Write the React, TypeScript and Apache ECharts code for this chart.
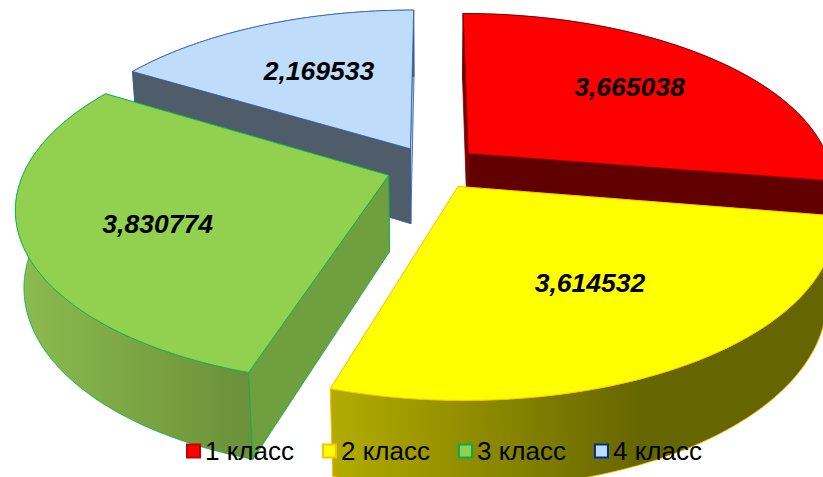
import React, { useEffect, useRef } from "react";
import * as echarts from "echarts";

const categories = ["1 класс", "2 класс", "3 класс", "4 класс"];
const values = [3.665038, 3.614532, 3.830774, 2.169533];
const topColors = ["#FF0000", "#FFFF00", "#92D050", "#BFDDFB"];
const edgeColors = ["#7A0000", "#FFC000", "#00B050", "#2F5BA8"];
const legendEdges = ["#C00000", "#FFC000", "#00B050", "#002F8E"];
const startWalls = ["#7A0000", "#666600", "#709F3F", "#4F5D6A"];
const endWalls = ["#600000", "#666600", "#709F3F", "#A9C4E4"];
const arcStops = [
  ["#600000", "#600000"],
  ["#B2AC00", "#666600"],
  ["#8CBB4E", "#6A8F39"],
  ["#4F5D6A", "#4F5D6A"],
];
const arcRanges = [[460, 823], [333, 640], [20, 255], [130, 420]];
const labelNudges = [[10, -7], [1, -2], [-16, 11], [3, 0]];
const paintOrder = [2, 4, 3, 1]; // z per slice: back to front is 4, 1, 3, 2
const wallOrder = [
  ["start", "arc", "end"],
  ["start", "end", "arc"],
  ["end", "arc", "start"],
  ["end", "arc", "start"],
];

const CX = 433, Y0 = 167.5, RX = 363, RY = 169, P = 0.175, Q = 0.02, H = 77.5, EXPLODE = 0.1295;

function project(gx: number, gy: number, z: number): number[] {
  const w = 1 + P * gy + Q * z;
  return [CX + (RX * gx) / w, Y0 + (-RY * gy + H * z) / w];
}

const total = values.reduce((a, b) => a + b, 0);

function makeRenderItem(index: number) {
  return (_params: any, api: any) => {
    const v = api.value(0);
    let before = 0;
    for (let i = 0; i < index; i++) before += values[i];
    const a0 = (before / total) * Math.PI * 2;
    const a1 = a0 + (v / total) * Math.PI * 2;
    const mid = (a0 + a1) / 2;
    const ox = EXPLODE * Math.sin(mid);
    const oy = EXPLODE * Math.cos(mid);
    const steps = 90;
    const rim = (z: number) => {
      const pts: number[][] = [];
      for (let s = 0; s <= steps; s++) {
        const t = a0 + ((a1 - a0) * s) / steps;
        pts.push(project(ox + Math.sin(t), oy + Math.cos(t), z));
      }
      return pts;
    };
    const topRim = rim(0);
    const botRim = rim(1);
    const apexTop = project(ox, oy, 0);
    const apexBot = project(ox, oy, 1);
    const edge = edgeColors[index];
    const poly = (points: number[][], fill: any, strokeWidth = 0.8) => ({
      type: "polygon",
      shape: { points },
      style: { fill, stroke: edge, lineWidth: strokeWidth },
    });
    const [gx0, gx1] = arcRanges[index];
    const arcFill = new echarts.graphic.LinearGradient(
      gx0, 0, gx1, 0,
      [
        { offset: 0, color: arcStops[index][0] },
        { offset: 1, color: arcStops[index][1] },
      ],
      true
    );
    const walls: Record<string, any> = {
      start: poly([apexTop, topRim[0], botRim[0], apexBot], startWalls[index]),
      end: poly([apexTop, topRim[steps], botRim[steps], apexBot], endWalls[index]),
      arc: poly([...topRim, ...botRim.slice().reverse()], arcFill),
    };
    const lr = 0.6;
    const lp = project(ox + lr * Math.sin(mid), oy + lr * Math.cos(mid), 0);
    const label = v.toFixed(6).replace(".", ",");
    return {
      type: "group",
      children: [
        ...wallOrder[index].map((k) => walls[k]),
        poly([apexTop, ...topRim], topColors[index]),
        {
          type: "text",
          x: lp[0] + labelNudges[index][0],
          y: lp[1] + labelNudges[index][1],
          style: {
            text: label,
            fill: "#000",
            font: "italic bold 26.5px 'Liberation Sans', Arial, sans-serif",
            textAlign: "center",
            textVerticalAlign: "middle",
          },
        },
      ],
    };
  };
}

export default function App() {
  const ref = useRef<HTMLDivElement>(null);
  useEffect(() => {
    document.body.style.margin = "0";
    const chart = echarts.init(ref.current!, undefined, { renderer: "svg" });
    chart.setOption({
      animation: false,
      backgroundColor: "#fff",
      legend: {
        z: 20,
        left: 186,
        top: 438,
        padding: 0,
        itemWidth: 13,
        itemHeight: 13,
        itemGap: 28,
        icon: "rect",
        selectedMode: false,
        textStyle: {
          fontFamily: "'Liberation Sans', Arial, sans-serif",
          fontSize: 26,
          color: "#000",
        },
        data: categories.map((name, i) => ({
          name,
          icon: "rect",
          itemStyle: { color: topColors[i], borderColor: legendEdges[i], borderWidth: 2 },
        })),
      },
      series: categories.map((name, i) => ({
        type: "custom",
        name,
        coordinateSystem: "none",
        z: paintOrder[i],
        silent: true,
        itemStyle: { color: topColors[i] },
        renderItem: makeRenderItem(i),
        data: [[values[i]]],
      })),
    });
    return () => chart.dispose();
  }, []);
  return <div ref={ref} style={{ width: 823, height: 477, overflow: "hidden" }} />;
}
